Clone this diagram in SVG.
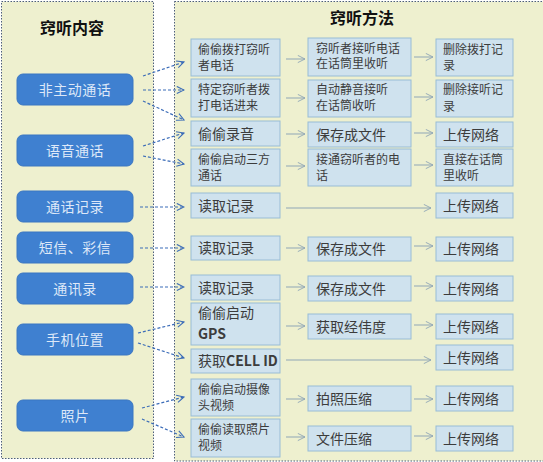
<svg xmlns="http://www.w3.org/2000/svg" width="543" height="462" viewBox="0 0 543 462">
<defs>
<marker id="mb" viewBox="0 0 10 10" refX="9" refY="5" markerWidth="9" markerHeight="9" markerUnits="userSpaceOnUse" orient="auto">
<path d="M1,1 L9,5 L1,9" fill="none" stroke="#3b6cb8" stroke-width="1.2"/>
</marker>
<marker id="mg" viewBox="0 0 10 10" refX="9" refY="5" markerWidth="9" markerHeight="9" markerUnits="userSpaceOnUse" orient="auto">
<path d="M1,1 L9,5 L1,9" fill="none" stroke="#8fa6b6" stroke-width="1"/>
</marker>
</defs>
<style>
.panel{fill:#eef0cf;stroke:#4d5e7c;stroke-width:1;stroke-dasharray:1.5 1.5}
.title{font-family:"Noto Sans CJK SC","Liberation Sans",sans-serif;font-size:16px;font-weight:bold;fill:#111;text-anchor:middle}
.ln{fill:#3f80d0;stroke:#3a76c2;stroke-width:1}
.lt{font-family:"Noto Sans CJK SC","Liberation Sans",sans-serif;font-size:14px;fill:#dde8f8;text-anchor:middle;letter-spacing:0.5px}
.bx{fill:#cfe2ee;stroke:#98bcd6;stroke-width:1}
.t1{font-family:"Noto Sans CJK SC","Liberation Sans",sans-serif;font-size:14px;fill:#3c3c3c}
.t2{font-family:"Noto Sans CJK SC","Liberation Sans",sans-serif;font-size:12px;fill:#3c3c3c}
.la{fill:none;stroke:#3b6cb8;stroke-width:1.2;stroke-dasharray:3 2;marker-end:url(#mb)}
.ra{fill:none;stroke:#8fa6b6;stroke-width:1;marker-end:url(#mg)}
</style>
<rect width="543" height="462" fill="#ffffff"/>
<rect class="panel" x="1.5" y="1.5" width="152" height="457"/>
<rect class="panel" x="174.5" y="1.5" width="372" height="459.5"/>
<text class="title" x="72" y="34">窍听内容</text>
<text class="title" x="362" y="24">窍听方法</text>

<g id="left-nodes">
<g id="n-feizhudong"><rect class="ln" x="17" y="74" width="116" height="31" rx="6"/><text class="lt" x="75" y="94.5">非主动通话</text></g>
<g id="n-yuyin"><rect class="ln" x="17" y="135" width="116" height="31" rx="6"/><text class="lt" x="75" y="155.5">语音通话</text></g>
<g id="n-tonghuajilu"><rect class="ln" x="17" y="191" width="116" height="31" rx="6"/><text class="lt" x="75" y="211.5">通话记录</text></g>
<g id="n-duanxin"><rect class="ln" x="17" y="232" width="116" height="31" rx="6"/><text class="lt" x="75" y="252.5">短信、彩信</text></g>
<g id="n-tongxunlu"><rect class="ln" x="17" y="273" width="116" height="31" rx="6"/><text class="lt" x="75" y="293.5">通讯录</text></g>
<g id="n-shouji"><rect class="ln" x="17" y="324" width="116" height="31" rx="6"/><text class="lt" x="75" y="344.5">手机位置</text></g>
<g id="n-zhaopian"><rect class="ln" x="17" y="400" width="116" height="31" rx="6"/><text class="lt" x="75" y="420.5">照片</text></g>
</g>

<g id="col1">
<g id="c1r1"><rect class="bx" x="191" y="39" width="89" height="37"/><text class="t2" x="198" y="54">偷偷拨打窃听</text><text class="t2" x="198" y="69.5">者电话</text></g>
<g id="c1r2"><rect class="bx" x="191" y="79" width="89" height="38"/><text class="t2" x="198" y="94">特定窃听者拨</text><text class="t2" x="198" y="110">打电话进来</text></g>
<g id="c1r3"><rect class="bx" x="191" y="121" width="89" height="25"/><text class="t1" x="198" y="138.5">偷偷录音</text></g>
<g id="c1r4"><rect class="bx" x="191" y="149" width="89" height="37"/><text class="t2" x="198" y="164">偷偷启动三方</text><text class="t2" x="198" y="179.5">通话</text></g>
<g id="c1r5"><rect class="bx" x="191" y="193" width="89" height="25"/><text class="t1" x="198" y="210.5">读取记录</text></g>
<g id="c1r6"><rect class="bx" x="191" y="236" width="89" height="24"/><text class="t1" x="198" y="253">读取记录</text></g>
<g id="c1r7"><rect class="bx" x="191" y="275" width="89" height="25"/><text class="t1" x="198" y="292.5">读取记录</text></g>
<g id="c1r8"><rect class="bx" x="191" y="303" width="89" height="42"/><text class="t1" x="198" y="318" font-size="13.5">偷偷启动</text><text class="t1" x="198" y="338.5" font-size="13.5" font-weight="bold">GPS</text></g>
<g id="c1r9"><rect class="bx" x="191" y="349" width="89" height="24"/><text class="t1" x="198" y="366">获取<tspan font-weight="bold">CELL ID</tspan></text></g>
<g id="c1r10"><rect class="bx" x="191" y="379" width="89" height="37"/><text class="t2" x="198" y="394">偷偷启动摄像</text><text class="t2" x="198" y="409.5">头视频</text></g>
<g id="c1r11"><rect class="bx" x="191" y="419" width="89" height="38"/><text class="t2" x="198" y="434">偷偷读取照片</text><text class="t2" x="198" y="449.5">视频</text></g>
</g>

<g id="col2">
<g id="c2r1"><rect class="bx" x="308" y="38" width="103" height="38"/><text class="t2" x="316" y="52.5">窃听者接听电话</text><text class="t2" x="316" y="68">在话筒里收听</text></g>
<g id="c2r2"><rect class="bx" x="308" y="80" width="103" height="37"/><text class="t2" x="316" y="94">自动静音接听</text><text class="t2" x="316" y="110">在话筒收听</text></g>
<g id="c2r3"><rect class="bx" x="308" y="122" width="103" height="25"/><text class="t1" x="316" y="139.5">保存成文件</text></g>
<g id="c2r4"><rect class="bx" x="308" y="149" width="103" height="37"/><text class="t2" x="316" y="164">接通窃听者的电</text><text class="t2" x="316" y="179.5">话</text></g>
<g id="c2r6"><rect class="bx" x="308" y="237" width="103" height="24"/><text class="t1" x="316" y="254">保存成文件</text></g>
<g id="c2r7"><rect class="bx" x="308" y="276" width="103" height="25"/><text class="t1" x="316" y="293.5">保存成文件</text></g>
<g id="c2r8"><rect class="bx" x="308" y="314" width="103" height="25"/><text class="t1" x="316" y="331.5">获取经伟度</text></g>
<g id="c2r10"><rect class="bx" x="308" y="386" width="103" height="25"/><text class="t1" x="316" y="403.5">拍照压缩</text></g>
<g id="c2r11"><rect class="bx" x="308" y="426" width="103" height="25"/><text class="t1" x="316" y="443.5">文件压缩</text></g>
</g>

<g id="col3">
<g id="c3r1"><rect class="bx" x="436" y="39" width="77" height="37"/><text class="t2" x="443" y="54">删除拨打记</text><text class="t2" x="443" y="69.5">录</text></g>
<g id="c3r2"><rect class="bx" x="436" y="80" width="77" height="37"/><text class="t2" x="443" y="94">删除接听记</text><text class="t2" x="443" y="110.5">录</text></g>
<g id="c3r3"><rect class="bx" x="436" y="122" width="77" height="25"/><text class="t1" x="443" y="139.5">上传网络</text></g>
<g id="c3r4"><rect class="bx" x="436" y="149" width="77" height="37"/><text class="t2" x="443" y="164">直接在话筒</text><text class="t2" x="443" y="179.5">里收听</text></g>
<g id="c3r5"><rect class="bx" x="436" y="193" width="77" height="25"/><text class="t1" x="443" y="210.5">上传网络</text></g>
<g id="c3r6"><rect class="bx" x="436" y="237" width="77" height="24"/><text class="t1" x="443" y="254">上传网络</text></g>
<g id="c3r7"><rect class="bx" x="436" y="276" width="77" height="25"/><text class="t1" x="443" y="293.5">上传网络</text></g>
<g id="c3r8"><rect class="bx" x="436" y="314" width="77" height="25"/><text class="t1" x="443" y="331.5">上传网络</text></g>
<g id="c3r9"><rect class="bx" x="436" y="345" width="77" height="25"/><text class="t1" x="443" y="362.5">上传网络</text></g>
<g id="c3r10"><rect class="bx" x="436" y="386" width="77" height="25"/><text class="t1" x="443" y="403.5">上传网络</text></g>
<g id="c3r11"><rect class="bx" x="436" y="426" width="77" height="25"/><text class="t1" x="443" y="443.5">上传网络</text></g>
</g>

<g id="connectors">
<line class="la" x1="143" y1="76" x2="184" y2="62"/>
<line class="la" x1="143" y1="90" x2="184" y2="90"/>
<line class="la" x1="143" y1="101" x2="184" y2="120"/>
<line class="la" x1="143" y1="146" x2="184" y2="133"/>
<line class="la" x1="143" y1="156" x2="184" y2="164"/>
<line class="la" x1="140" y1="207" x2="184" y2="207"/>
<line class="la" x1="140" y1="248" x2="184" y2="248"/>
<line class="la" x1="140" y1="287" x2="184" y2="287"/>
<line class="la" x1="138" y1="333" x2="184" y2="322"/>
<line class="la" x1="138" y1="343" x2="184" y2="358"/>
<line class="la" x1="142" y1="408" x2="184" y2="397"/>
<line class="la" x1="142" y1="419" x2="184" y2="437"/>

<line class="ra" x1="286" y1="59" x2="305" y2="59"/>
<line class="ra" x1="414" y1="57" x2="433" y2="57"/>
<line class="ra" x1="286" y1="98" x2="305" y2="98"/>
<line class="ra" x1="414" y1="97" x2="433" y2="97"/>
<line class="ra" x1="286" y1="134" x2="305" y2="134"/>
<line class="ra" x1="414" y1="133" x2="433" y2="133"/>
<line class="ra" x1="286" y1="166" x2="305" y2="166"/>
<line class="ra" x1="414" y1="165" x2="433" y2="165"/>
<line class="ra" x1="286" y1="208" x2="431" y2="208"/>
<line class="ra" x1="286" y1="248" x2="305" y2="248"/>
<line class="ra" x1="414" y1="246" x2="433" y2="246"/>
<line class="ra" x1="286" y1="287" x2="305" y2="287"/>
<line class="ra" x1="414" y1="286" x2="433" y2="286"/>
<line class="ra" x1="286" y1="326" x2="305" y2="326"/>
<line class="ra" x1="414" y1="325" x2="433" y2="325"/>
<line class="ra" x1="286" y1="360" x2="431" y2="360"/>
<line class="ra" x1="286" y1="399" x2="305" y2="399"/>
<line class="ra" x1="414" y1="399" x2="433" y2="399"/>
<line class="ra" x1="286" y1="437" x2="305" y2="437"/>
<line class="ra" x1="414" y1="436" x2="433" y2="436"/>
</g>
</svg>
